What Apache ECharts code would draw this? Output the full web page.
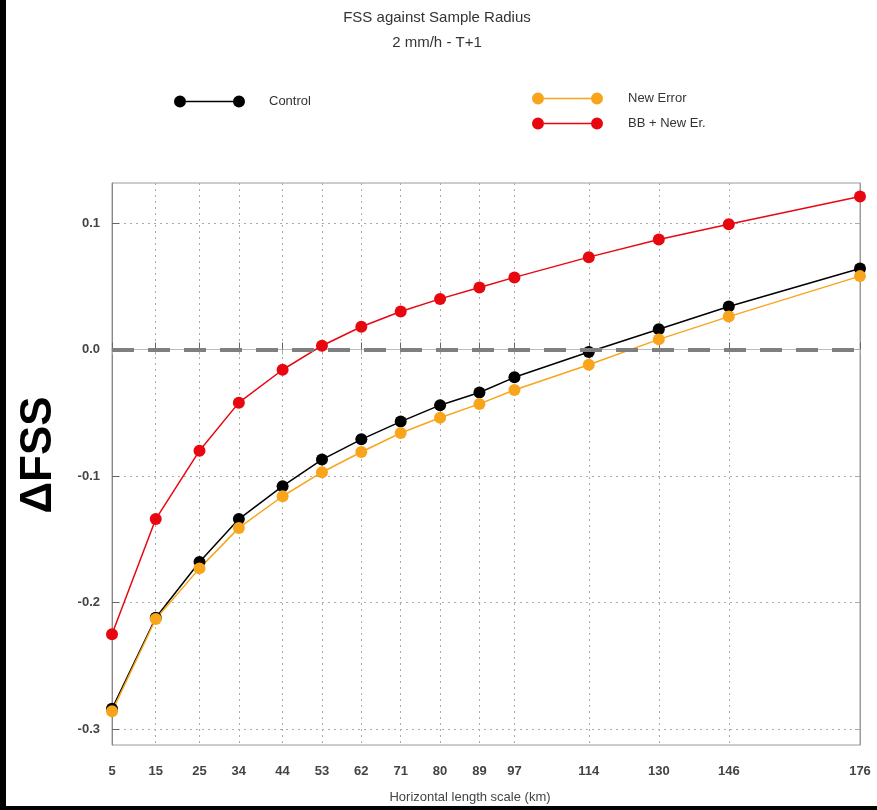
<!DOCTYPE html>
<html>
<head>
<meta charset="utf-8">
<script src="https://cdn.jsdelivr.net/npm/echarts@6/dist/echarts.min.js"></script>
<style>
  html, body { margin: 0; padding: 0; background: #fff; }
  #chart { position: absolute; left: 0; top: 0; width: 877px; height: 810px; }
  .bar { position: absolute; background: #000; }
</style>
</head>
<body>
<div id="chart"></div>
<div class="bar" style="left:0;top:0;width:6px;height:810px"></div>
<div class="bar" style="left:0;top:806px;width:877px;height:4px"></div>
<script>
// horizontal length scale (km)
var km = [5, 15, 25, 34, 44, 53, 62, 71, 80, 89, 97, 114, 130, 146, 176];
var yTicks = [-0.3, -0.2, -0.1, 0.0, 0.1];
// delta FSS per experiment
var control  = [-0.284, -0.212, -0.168, -0.134, -0.108, -0.087, -0.071, -0.057, -0.044, -0.034, -0.022, -0.002, 0.016, 0.034, 0.064];
var newError = [-0.286, -0.213, -0.173, -0.141, -0.116, -0.097, -0.081, -0.066, -0.054, -0.043, -0.032, -0.012, 0.008, 0.026, 0.058];
var bbNewEr  = [-0.225, -0.134, -0.080, -0.042, -0.016, 0.003, 0.018, 0.030, 0.040, 0.049, 0.057, 0.073, 0.087, 0.099, 0.121];

function pairs(ys) {
  return km.map(function (x, i) { return [x, ys[i]]; });
}

var font = 'Liberation Sans, Arial, sans-serif';
// line with a dot at each end, like the original key
var legendIcon = 'path://M0,6a6,6 0 1,0 12,0a6,6 0 1,0 -12,0Z M59,6a6,6 0 1,0 12,0a6,6 0 1,0 -12,0Z M12,5.3h47v1.4h-47Z';

var chart = echarts.init(document.getElementById('chart'));

var gridLine = { show: true, lineStyle: { color: '#ababab', type: [2, 4], width: 1 } };

function lineSeries(name, ys, color) {
  return {
    name: name,
    type: 'line',
    data: pairs(ys),
    symbol: 'circle',
    symbolSize: 12,
    color: color,
    lineStyle: { width: 1.5, color: color },
    itemStyle: { color: color },
    z: 3
  };
}

chart.setOption({
  animation: false,
  title: {
    text: 'FSS against Sample Radius\n2 mm/h - T+1',
    left: 432,
    textAlign: 'center',
    top: 0,
    textStyle: { fontFamily: font, fontSize: 15, fontWeight: 'normal', color: '#333', lineHeight: 25 }
  },
  legend: [
    {
      data: ['Control'],
      left: 169, top: 90,
      itemWidth: 71, itemHeight: 12,
      icon: legendIcon,
      textStyle: { fontFamily: font, fontSize: 13, color: '#333', padding: [0, 0, 0, 19] }
    },
    {
      data: ['New Error', 'BB + New Er.'],
      orient: 'vertical',
      left: 527, top: 87,
      itemWidth: 71, itemHeight: 12,
      itemGap: 12,
      icon: legendIcon,
      textStyle: { fontFamily: font, fontSize: 13, color: '#333', padding: [0, 0, 0, 20] }
    }
  ],
  grid: {
    left: 112, right: 17, top: 183, bottom: 65,
    show: true, borderColor: '#9a9a9a', borderWidth: 1
  },
  xAxis: [
    {
      type: 'value', min: 5, max: 176,
      name: 'Horizontal length scale (km)',
      nameLocation: 'middle', nameGap: 46,
      nameTextStyle: { fontFamily: font, fontSize: 13, color: '#444', padding: [0, 32, 0, 0] },
      axisLine: { show: true, lineStyle: { color: '#888' } },
      axisTick: { show: true, inside: true, length: 7, customValues: km, lineStyle: { color: '#666' } },
      axisLabel: { customValues: km, margin: 20, fontFamily: font, fontSize: 13, fontWeight: 'bold', color: '#444' },
      splitLine: gridLine
    },
    {
      type: 'value', min: 5, max: 176, position: 'top',
      axisLine: { show: true, lineStyle: { color: '#bbb' } },
      axisTick: { show: true, inside: true, length: 5, customValues: km, lineStyle: { color: '#aaa' } },
      axisLabel: { show: false },
      splitLine: { show: false }
    }
  ],
  yAxis: [
    {
      type: 'value', min: -0.3126, max: 0.1316,
      name: 'ΔFSS',
      nameLocation: 'middle', nameGap: 51,
      nameTextStyle: { fontFamily: font, fontSize: 44, fontWeight: 'bold', color: '#000', padding: [0, 0, 0, 18] },
      axisLine: { show: true, lineStyle: { color: '#888' } },
      axisTick: { show: true, inside: true, length: 7, customValues: yTicks, lineStyle: { color: '#666' } },
      axisLabel: {
        customValues: yTicks, margin: 12, fontFamily: font, fontSize: 13, fontWeight: 'bold', color: '#444',
        formatter: function (v) { return v.toFixed(1); }
      },
      splitLine: gridLine
    },
    {
      type: 'value', min: -0.3126, max: 0.1316, position: 'right',
      axisLine: { show: true, lineStyle: { color: '#9a9a9a' } },
      axisTick: { show: true, inside: true, length: 5, customValues: yTicks, lineStyle: { color: '#aaa' } },
      axisLabel: { show: false },
      splitLine: { show: false }
    }
  ],
  series: [
    {
      name: 'zero',
      type: 'line',
      data: [],
      silent: true,
      z: 2,
      markLine: {
        silent: true,
        symbol: 'none',
        label: { show: false },
        lineStyle: { color: '#7f7f7f', width: 4, type: [22, 14] },
        data: [{ yAxis: 0 }]
      }
    },
    lineSeries('Control', control, '#000000'),
    lineSeries('New Error', newError, '#f8a51c'),
    lineSeries('BB + New Er.', bbNewEr, '#e8070f')
  ]
});
</script>
</body>
</html>
